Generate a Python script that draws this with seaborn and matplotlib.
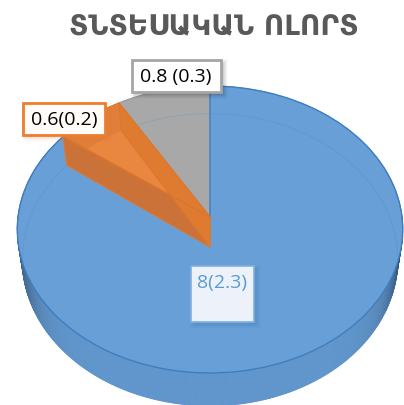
import numpy as np
import matplotlib
matplotlib.use("Agg")
import matplotlib.pyplot as plt
import seaborn as sns
from matplotlib.transforms import Transform
from matplotlib.patches import Rectangle, Polygon
from matplotlib.collections import PolyCollection
from matplotlib.colors import to_rgb

categories = ["grey", "orange", "blue"]
values = [0.8, 0.6, 8.0]
labels = ["0.8 (0.3)", "0.6(0.2)", "8(2.3)"]
title = "ՏՆՏԵՍԱԿԱՆ ՈԼՈՐՏ"
colors = ["#A8A8A8", "#E98640", "#679FD6"]

sns.set_theme(style="white")
plt.rcParams["font.family"] = ["Open Sans", "DejaVu Sans"]


class Disk(Transform):
    """Perspective view of the unit disk, giving pixel-like data coordinates."""
    input_dims = output_dims = 2
    is_separable = False
    has_inverse = False

    def __init__(self, a, b, cy, k=0.0871, cx=210.0):
        super().__init__()
        self.a, self.b, self.cy, self.k, self.cx = a, b, cy, k, cx

    def transform_non_affine(self, xy):
        xy = np.asarray(xy, float)
        w = 1 + self.k * xy[:, 1]
        return np.column_stack([self.cx + self.a * xy[:, 0] / w,
                                self.cy - self.b * xy[:, 1] / w])


top = Disk(192, 142.4, 217)
bot = Disk(187, 145, 247)

fig = plt.figure(figsize=(4.04, 4.05), dpi=100)
ax = fig.add_axes([0, 0, 1, 1])


def unit(theta_deg):
    t = np.radians(theta_deg)
    return np.column_stack([np.cos(t), np.sin(t)])


# side wall of the whole pie
th = np.linspace(0, 360, 361)
T, B = top.transform(unit(th)), bot.transform(unit(th))
quads, qcol = [], []
c_mid, c_edge = np.array(to_rgb("#6096CC")), np.array(to_rgb("#2F4A66"))
for i in range(360):
    quads.append([T[i], T[i + 1], B[i + 1], B[i]])
    c = np.cos(np.radians(th[i] + 0.5))
    f = min(1.0, abs(c) ** 10)
    qcol.append(c_mid * (1 - f) + c_edge * f)
ax.add_collection(PolyCollection(quads, facecolors=qcol, edgecolors=qcol, linewidths=0.6, zorder=1))

# top surface
wedges, _ = ax.pie(values, colors=colors, startangle=90, counterclock=True, radius=1)
for w, ec in zip(wedges, ["#A0A0A0", "#E07B30", "#3F7EBE"]):
    w.set_transform(top + ax.transData)
    w.set_edgecolor(ec)
    w.set_linewidth(1.0)
    w.set_zorder(2)
wedges[1].set_zorder(4)

ax.set_aspect("auto")
ax.set_xlim(0, 404)
ax.set_ylim(405, 0)
ax.axis("off")

# faint outline of the base seen through the top
ax.plot(*B[:].T, color="#4C8BCB", lw=0.8, alpha=0.22, zorder=3)

# orange slice walls
share = np.cumsum(values) / np.sum(values) * 360
a0, a1 = 90 + share[0], 90 + share[1]
arc = np.linspace(a0, a1, 30)
t_arc, b_arc = top.transform(unit(arc)), bot.transform(unit(arc))
tip_t, tip_b = top.transform(np.zeros((1, 2))), bot.transform(np.zeros((1, 2)))
ax.add_patch(Polygon(np.vstack([t_arc, b_arc[::-1]]), fc="#E07E3A", ec="none", zorder=5))
ax.add_patch(Polygon(np.vstack([t_arc[-1:], tip_t, tip_b, b_arc[-1:]]), fc="#CB7238", ec="#DD772F", lw=0.8, zorder=5))
ax.add_patch(Polygon(np.vstack([t_arc[:1], tip_t, tip_b, b_arc[:1]]), fc="#DF7B31", ec="#DD772F", lw=0.8, zorder=6))
ax.plot(*np.vstack([t_arc[-1:], tip_t]).T, color="#D9742C", lw=0.9, zorder=7)


def box(x0, y0, x1, y1, fc, ec, lw, shadow="#000000"):
    for i, al in zip([5, 4, 3, 2, 1], [0.02, 0.03, 0.04, 0.05, 0.06]):
        ax.add_patch(Rectangle((x0 + 4 - i, y0 + 4 - i), x1 - x0 + 2 * i - 2, y1 - y0 + 2 * i - 2,
                               fc=shadow, ec="none", alpha=al, zorder=8))
    ax.add_patch(Rectangle((x0, y0), x1 - x0, y1 - y0, fc=fc, ec=ec, lw=lw, zorder=9))


box(131.5, 60, 220.5, 92, "white", "#A5A5A5", 2.0)
box(23, 103, 105, 135, "#FFFBF8", "#ED7D31", 2.0, "#ED7D31")
box(191, 266, 254, 322, "#EDF2FA", "#7FB0E0", 1.2, "#2E6299")

ax.text(176, 77, labels[0], ha="center", va="center", fontsize=14, color="black", zorder=10)
ax.text(64.5, 119.5, labels[1], ha="center", va="center", fontsize=14, color="black", zorder=10)
ax.text(222.5, 283, labels[2], ha="center", va="center", fontsize=14, color="#5B9BD5", zorder=10)

ax.text(213.5, 26, title, ha="center", va="center", fontsize=20.2, fontweight="bold",
        color="#595959", family=["DejaVu Sans"], zorder=10)

fig.savefig("out.png", dpi=100)
